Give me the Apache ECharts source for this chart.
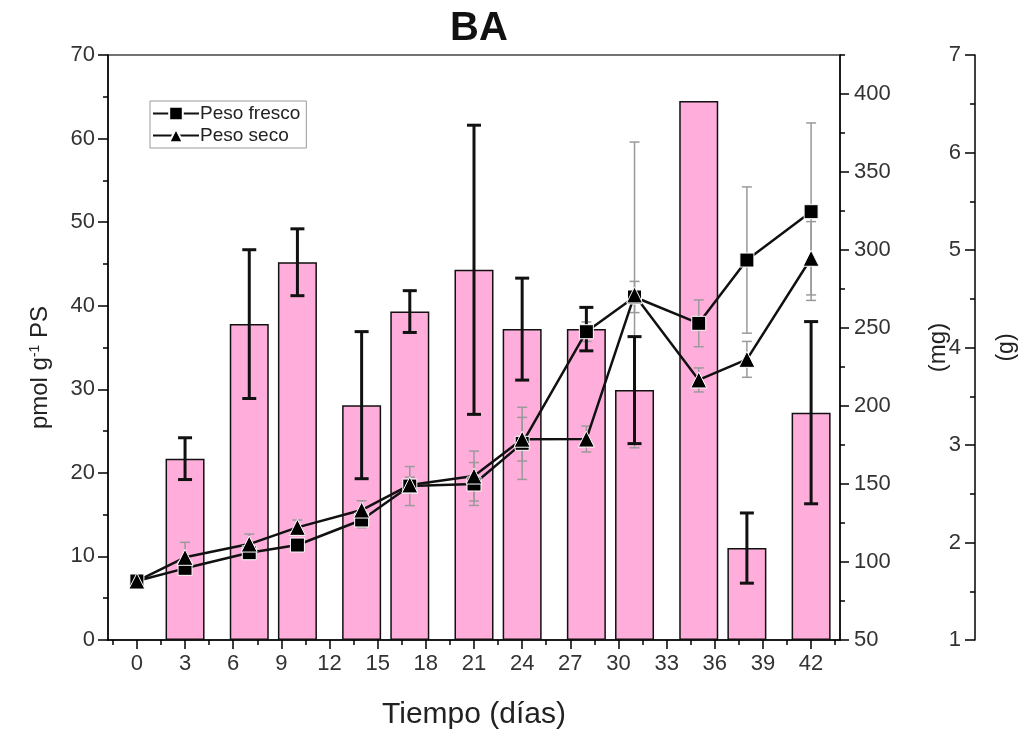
<!DOCTYPE html>
<html>
<head>
<meta charset="utf-8">
<title>BA</title>
<script src="https://cdn.jsdelivr.net/npm/echarts@6/dist/echarts.min.js"></script>
<style>
  html, body { margin: 0; padding: 0; background: #fff; }
  #chart { width: 1025px; height: 736px; }
</style>
</head>
<body>
<div id="chart"></div>
<script>
// Sampling days for the weight curves and for the BA bars
const days = [0, 3, 7, 10, 14, 17, 21, 24, 28, 31, 35, 38, 42];
const barDays = [3, 7, 10, 14, 17, 21, 24, 28, 31, 35, 38, 42];

// BA content (pmol g-1 PS) with its standard deviation
const baValues = [21.7, 37.8, 45.2, 28.1, 39.3, 44.3, 37.2, 37.2, 29.9, 64.5, 11.0, 27.2];
const baErr = [2.5, 8.9, 4.0, 8.8, 2.5, 17.3, 6.1, 2.6, 6.4, null, 4.2, 10.9];

// Fresh weight (g) and dry weight (mg) with their deviations
const freshWeight = [1.605, 1.735, 1.895, 1.974, 2.231, 2.579, 2.600, 3.017, 4.162, 4.518, 4.248, 4.897, 5.393];
const freshErr = [0, 0.05, 0.05, 0.05, 0.08, 0.20, 0.22, 0.37, 0.10, 0.16, 0.24, 0.75, 0.91];
const dryWeight = [87.8, 103.0, 111.5, 122.2, 133.3, 149.4, 155.1, 178.7, 178.8, 271.2, 216.7, 229.9, 294.7];
const dryErr = [0, 9.6, 6.4, 4.7, 6.0, 5.0, 16.0, 14.0, 8.3, 98.0, 7.7, 11.5, 23.5];

// Tick positions
const xTicks = [0, 3, 6, 9, 12, 15, 18, 21, 24, 27, 30, 33, 36, 39, 42];
const xMinorTicks = [-1.5, 1.5, 4.5, 7.5, 10.5, 13.5, 16.5, 19.5, 22.5, 25.5, 28.5, 31.5, 34.5, 37.5, 40.5, 43.5];
const mgTicks = [50, 100, 150, 200, 250, 300, 350, 400];
const mgMinorTicks = [75, 125, 175, 225, 275, 325, 375, 425];

const FONT = "'Liberation Sans', Arial, sans-serif";
const TXT = '#333';

function errorBars(capHalf, color, width) {
  return function (params, api) {
    const x = api.value(0);
    const lo = api.value(1);
    const hi = api.value(2);
    const top = api.coord([x, hi]);
    const bot = api.coord([x, lo]);
    const style = { stroke: color, lineWidth: width };
    return {
      type: 'group',
      children: [
        { type: 'line', shape: { x1: top[0], y1: top[1], x2: bot[0], y2: bot[1] }, style },
        { type: 'line', shape: { x1: top[0] - capHalf, y1: top[1], x2: top[0] + capHalf, y2: top[1] }, style },
        { type: 'line', shape: { x1: bot[0] - capHalf, y1: bot[1], x2: bot[0] + capHalf, y2: bot[1] }, style }
      ]
    };
  };
}

const baErrData = barDays
  .map((d, i) => baErr[i] == null ? null : [d, baValues[i] - baErr[i], baValues[i] + baErr[i]])
  .filter(Boolean);
const freshErrData = days
  .map((d, i) => freshErr[i] > 0 ? [d, freshWeight[i] - freshErr[i], freshWeight[i] + freshErr[i]] : null)
  .filter(Boolean);
const dryErrData = days
  .map((d, i) => dryErr[i] > 0 ? [d, dryWeight[i] - dryErr[i], dryWeight[i] + dryErr[i]] : null)
  .filter(Boolean);

const axisLineStyle = { color: '#000', width: 1.5 };
const tickLabel = { color: TXT, fontSize: 22, fontFamily: FONT };
const tickLine = { color: '#000', width: 1.5 };

const chart = echarts.init(document.getElementById('chart'), null, { renderer: 'canvas' });
chart.setOption({
  backgroundColor: '#fff',
  animation: false,
  title: {
    text: 'BA',
    left: 445,
    top: 4,
    textStyle: { fontSize: 40, fontWeight: 'bold', color: '#111', fontFamily: FONT }
  },
  legend: {
    data: ['Peso fresco', 'Peso seco'],
    orient: 'vertical',
    left: 150,
    top: 101,
    padding: [3, 6, 3, 2],
    itemGap: 3,
    itemWidth: 46,
    itemHeight: 17,
    borderColor: '#999',
    borderWidth: 1,
    textStyle: { fontSize: 19, color: '#222', fontFamily: FONT, padding: [0, 0, 0, -4] }
  },
  grid: {
    left: 108, right: 185, top: 55, bottom: 96,
    containLabel: false,
    outerBoundsMode: 'none',
    show: true, borderColor: '#444', borderWidth: 1.5, backgroundColor: 'transparent'
  },
  xAxis: [
    {
      type: 'value', min: -1.8, max: 43.8, position: 'bottom',
      axisLine: { show: true, onZero: false, lineStyle: axisLineStyle },
      axisTick: { show: true, customValues: xTicks, length: 9, lineStyle: tickLine },
      axisLabel: { customValues: xTicks, margin: 13, ...tickLabel },
      splitLine: { show: false },
      name: 'Tiempo (días)', nameLocation: 'middle', nameGap: 60,
      nameTextStyle: { fontSize: 30, color: '#222', fontFamily: FONT }
    },
    {
      type: 'value', min: -1.8, max: 43.8, position: 'bottom',
      axisLine: { show: false, onZero: false },
      axisTick: { show: true, customValues: xMinorTicks, length: 5, lineStyle: tickLine },
      axisLabel: { show: false },
      splitLine: { show: false }
    }
  ],
  yAxis: [
    {
      type: 'value', min: 0, max: 70, interval: 10, position: 'left',
      axisLine: { show: true, onZero: false, lineStyle: axisLineStyle },
      axisTick: { show: true, length: 10, lineStyle: tickLine },
      minorTick: { show: true, splitNumber: 2, length: 5, lineStyle: tickLine },
      axisLabel: { margin: 13, ...tickLabel },
      splitLine: { show: false },
      name: '{a|pmol g}{s|-1}{a| PS}', nameLocation: 'middle', nameGap: 56,
      nameTextStyle: {
        padding: [0, 40, 0, 0],
        rich: {
          a: { fontSize: 24, color: '#222', fontFamily: FONT },
          s: { fontSize: 14, color: '#222', fontFamily: FONT, padding: [0, 0, 10, 0] }
        }
      }
    },
    {
      type: 'value', min: 50, max: 425, position: 'right', offset: 0,
      axisLine: { show: true, onZero: false, lineStyle: axisLineStyle },
      axisTick: { show: true, customValues: mgTicks, length: 9, lineStyle: tickLine },
      axisLabel: { customValues: mgTicks, margin: 14, ...tickLabel },
      splitLine: { show: false },
      name: '(mg)', nameLocation: 'middle', nameGap: 86, nameRotate: 90,
      nameTextStyle: { fontSize: 24, color: '#222', fontFamily: FONT }
    },
    {
      type: 'value', min: 1, max: 7, interval: 1, position: 'right', offset: 135,
      axisLine: { show: true, onZero: false, lineStyle: axisLineStyle },
      axisTick: { show: true, inside: true, length: 10, lineStyle: tickLine },
      minorTick: { show: true, splitNumber: 2, length: 5, lineStyle: tickLine },
      axisLabel: { inside: true, margin: 14, ...tickLabel },
      splitLine: { show: false },
      name: '(g)', nameLocation: 'middle', nameGap: 20, nameRotate: 90,
      nameTextStyle: { fontSize: 23, color: '#222', fontFamily: FONT }
    },
    {
      type: 'value', min: 50, max: 425, position: 'right', offset: 0,
      axisLine: { show: false, onZero: false },
      axisTick: { show: true, customValues: mgMinorTicks, length: 5, lineStyle: tickLine },
      axisLabel: { show: false },
      splitLine: { show: false }
    }
  ],
  series: [
    {
      name: 'BA',
      type: 'bar',
      xAxisIndex: 0, yAxisIndex: 0,
      barWidth: 39,
      z: 2,
      data: barDays.map((d, i) => [d, baValues[i]]),
      itemStyle: { color: '#FFAEDB', borderColor: '#111', borderWidth: 1.5 }
    },
    {
      type: 'custom',
      xAxisIndex: 0, yAxisIndex: 2,
      z: 3,
      renderItem: errorBars(5, '#9a9a9a', 1.5),
      encode: { x: 0, y: [1, 2] },
      data: freshErrData
    },
    {
      type: 'custom',
      xAxisIndex: 0, yAxisIndex: 1,
      z: 3,
      renderItem: errorBars(5, '#9a9a9a', 1.5),
      encode: { x: 0, y: [1, 2] },
      data: dryErrData
    },
    {
      type: 'custom',
      xAxisIndex: 0, yAxisIndex: 0,
      z: 4,
      renderItem: errorBars(7, '#111', 3),
      encode: { x: 0, y: [1, 2] },
      data: baErrData
    },
    {
      name: 'Peso fresco',
      type: 'line',
      xAxisIndex: 0, yAxisIndex: 2,
      z: 5,
      symbol: 'rect', symbolSize: 14,
      lineStyle: { color: '#111', width: 2.5 },
      itemStyle: { color: '#000', borderColor: '#fff', borderWidth: 1 },
      data: days.map((d, i) => [d, freshWeight[i]])
    },
    {
      name: 'Peso seco',
      type: 'line',
      xAxisIndex: 0, yAxisIndex: 1,
      z: 5,
      symbol: 'triangle', symbolSize: 16,
      lineStyle: { color: '#111', width: 2.5 },
      itemStyle: { color: '#000', borderColor: '#fff', borderWidth: 1 },
      data: days.map((d, i) => [d, dryWeight[i]])
    }
  ]
});
</script>
</body>
</html>
